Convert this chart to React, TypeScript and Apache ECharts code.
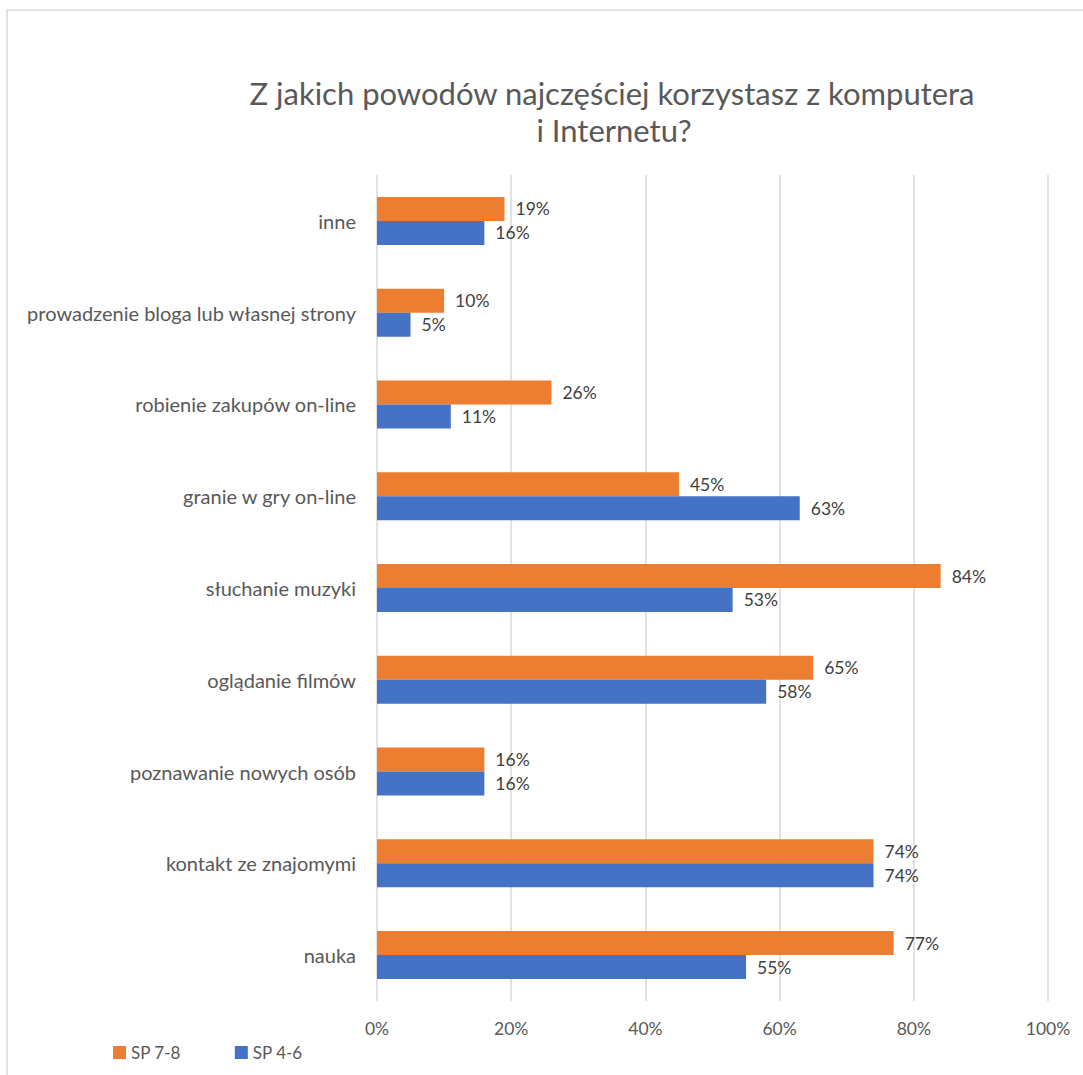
import React, { useEffect, useRef } from "react";
import * as echarts from "echarts";

const categories = [
  "nauka",
  "kontakt ze znajomymi",
  "poznawanie nowych osób",
  "oglądanie filmów",
  "słuchanie muzyki",
  "granie w gry on-line",
  "robienie zakupów on-line",
  "prowadzenie bloga lub własnej strony",
  "inne",
];
const sp78 = [77, 74, 16, 65, 84, 45, 26, 10, 19];
const sp46 = [55, 74, 16, 58, 53, 63, 11, 5, 16];
const xTicks = [0, 20, 40, 60, 80, 100];

const FONT = "Lato";
const TEXT = "#595959";

export default function App() {
  const ref = useRef<HTMLDivElement>(null);
  useEffect(() => {
    if (!ref.current) return;
    const chart = echarts.init(ref.current, null, { renderer: "svg" });
    const labelOpt = {
      show: true,
      position: "right",
      distance: 11,
      formatter: "{c}%",
      color: "#404040",
      fontSize: 17.5,
      fontFamily: FONT,
    };
    chart.setOption({
      animation: false,
      backgroundColor: "#ffffff",
      textStyle: { fontFamily: FONT },
      graphic: [
        {
          type: "rect",
          shape: { x: 7, y: 10, width: 1100, height: 1100 },
          style: { fill: "none", stroke: "#d9d9d9", lineWidth: 1.5 },
          silent: true,
        },
        {
          type: "text",
          x: 612,
          y: 93,
          style: {
            text: "Z jakich powodów najczęściej korzystasz z komputera",
            fill: TEXT,
            fontSize: 31,
            fontFamily: FONT,
            align: "center",
            verticalAlign: "middle",
          },
        },
        {
          type: "text",
          x: 614,
          y: 130,
          style: {
            text: "i Internetu?",
            fill: TEXT,
            fontSize: 31,
            fontFamily: FONT,
            align: "center",
            verticalAlign: "middle",
          },
        },
      ],
      legend: {
        data: ["SP 7-8", "SP 4-6"],
        left: 108,
        top: 1039,
        icon: "rect",
        itemWidth: 13,
        itemHeight: 13,
        itemGap: 54,
        textStyle: { color: TEXT, fontSize: 17, fontFamily: FONT },
      },
      grid: { left: 377, right: 35, top: 175, bottom: 74, containLabel: false },
      xAxis: {
        type: "value",
        min: xTicks[0],
        max: xTicks[xTicks.length - 1],
        interval: 20,
        axisLine: { show: false },
        axisTick: { show: false },
        splitLine: { lineStyle: { color: "#d9d9d9", width: 1.5 } },
        axisLabel: {
          formatter: "{value}%",
          color: TEXT,
          fontSize: 17.5,
          fontFamily: FONT,
          margin: 18,
        },
      },
      yAxis: {
        type: "category",
        data: categories,
        axisLine: { show: false },
        axisTick: { show: false },
        axisLabel: { color: TEXT, fontSize: 20, fontFamily: FONT, margin: 21 },
      },
      series: [
        {
          name: "SP 7-8",
          type: "bar",
          data: sp78,
          itemStyle: { color: "#ED7D31" },
          barGap: "0%",
          barCategoryGap: "47.7%",
          label: labelOpt,
        },
        {
          name: "SP 4-6",
          type: "bar",
          data: sp46,
          itemStyle: { color: "#4472C4" },
          barGap: "0%",
          barCategoryGap: "47.7%",
          label: labelOpt,
        },
      ],
    });
    return () => chart.dispose();
  }, []);
  return (
    <div
      ref={ref}
      style={{ position: "absolute", left: 0, top: 0, width: 1083, height: 1075 }}
    />
  );
}
